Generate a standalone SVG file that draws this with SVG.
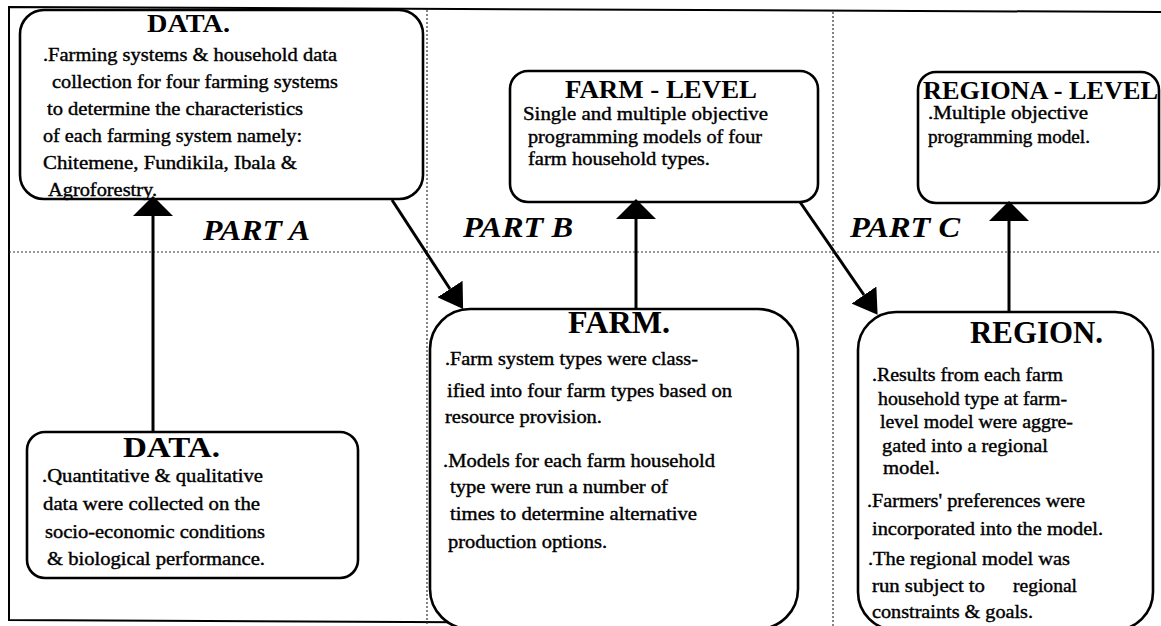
<svg xmlns="http://www.w3.org/2000/svg" width="1161" height="626" viewBox="0 0 1161 626">
<style>
  .box { fill: #fff; stroke: #000; stroke-width: 2.6; }
  .frame { fill: none; stroke: #000; stroke-width: 2; }
  .dot { fill: none; stroke: #333; stroke-width: 1.2; stroke-dasharray: 2 2; }
  .conn { fill: none; stroke: #000; stroke-width: 3; }
  .t { font-family: "Liberation Serif", "Times New Roman", serif; font-size: 19px; fill: #000; stroke: #000; stroke-width: 0.4; }
  .h { font-family: "Liberation Serif", "Times New Roman", serif; font-weight: bold; fill: #000; }
  .part { font-family: "Liberation Serif", "Times New Roman", serif; font-weight: bold; font-style: italic; font-size: 30px; fill: #000; }
</style>
<defs>
  <marker id="wide" viewBox="0 0 20 40" markerWidth="20" markerHeight="40" refX="0" refY="20" orient="auto" markerUnits="userSpaceOnUse">
    <path d="M0,0 L20,20 L0,40 Z" fill="#000"/>
  </marker>
  <marker id="sharp" viewBox="0 0 24 30" markerWidth="24" markerHeight="30" refX="0" refY="15" orient="auto" markerUnits="userSpaceOnUse">
    <path d="M0,0 L24,15 L0,30 Z" fill="#000"/>
  </marker>
</defs>

<g id="frame">
  <polyline class="frame" points="1161,12 9,7 9,620 640,623"/>
  <line class="dot" x1="9" y1="252" x2="1161" y2="252"/>
  <line class="dot" x1="427" y1="10" x2="427" y2="624"/>
  <line class="dot" x1="833" y1="12" x2="833" y2="626"/>
</g>

<g id="part-labels">
  <text class="part" x="203" y="240" textLength="107" lengthAdjust="spacingAndGlyphs">PART A</text>
  <text class="part" x="463" y="237" textLength="110" lengthAdjust="spacingAndGlyphs">PART B</text>
  <text class="part" x="850" y="237" textLength="110" lengthAdjust="spacingAndGlyphs">PART C</text>
</g>

<g id="node-data-top">
  <rect class="box" x="20" y="10" width="403" height="189" rx="24"/>
  <text class="h" x="147" y="32" font-size="25" textLength="83" lengthAdjust="spacingAndGlyphs">DATA.</text>
  <text class="t" x="43" y="61" textLength="294" lengthAdjust="spacingAndGlyphs">.Farming systems &amp; household data</text>
  <text class="t" x="52" y="88" textLength="286" lengthAdjust="spacingAndGlyphs">collection for four farming systems</text>
  <text class="t" x="47" y="115" textLength="256" lengthAdjust="spacingAndGlyphs">to determine the characteristics</text>
  <text class="t" x="43" y="142" textLength="259" lengthAdjust="spacingAndGlyphs">of each farming system namely:</text>
  <text class="t" x="43" y="169" textLength="254" lengthAdjust="spacingAndGlyphs">Chitemene, Fundikila, Ibala &amp;</text>
  <text class="t" x="48" y="196" textLength="109" lengthAdjust="spacingAndGlyphs">Agroforestry.</text>
</g>

<g id="node-farm-level">
  <rect class="box" x="510" y="71" width="308" height="131" rx="18"/>
  <text class="h" x="565" y="98" font-size="25" textLength="192" lengthAdjust="spacingAndGlyphs">FARM - LEVEL</text>
  <text class="t" x="523" y="120" textLength="245" lengthAdjust="spacingAndGlyphs">Single and multiple objective</text>
  <text class="t" x="528" y="143" textLength="234" lengthAdjust="spacingAndGlyphs">programming models of four</text>
  <text class="t" x="528" y="165" textLength="182" lengthAdjust="spacingAndGlyphs">farm household types.</text>
</g>

<g id="node-regional-level">
  <rect class="box" x="918" y="72" width="241" height="131" rx="18"/>
  <text class="h" x="923" y="99" font-size="25" textLength="235" lengthAdjust="spacingAndGlyphs">REGIONA - LEVEL</text>
  <text class="t" x="928" y="119" textLength="160" lengthAdjust="spacingAndGlyphs">.Multiple objective</text>
  <text class="t" x="928" y="143" textLength="162" lengthAdjust="spacingAndGlyphs">programming model.</text>
</g>

<g id="node-data-bottom">
  <rect class="box" x="27" y="432" width="331" height="146" rx="18"/>
  <text class="h" x="123" y="457" font-size="30" textLength="97" lengthAdjust="spacingAndGlyphs">DATA.</text>
  <text class="t" x="42" y="482" textLength="221" lengthAdjust="spacingAndGlyphs">.Quantitative &amp; qualitative</text>
  <text class="t" x="43" y="510" textLength="217" lengthAdjust="spacingAndGlyphs">data were collected on the</text>
  <text class="t" x="45" y="538" textLength="220" lengthAdjust="spacingAndGlyphs">socio-economic conditions</text>
  <text class="t" x="47" y="565" textLength="218" lengthAdjust="spacingAndGlyphs">&amp; biological performance.</text>
</g>

<g id="node-farm">
  <rect class="box" x="430" y="309" width="368" height="320" rx="40"/>
  <text class="h" x="568" y="333" font-size="31" textLength="102" lengthAdjust="spacingAndGlyphs">FARM.</text>
  <text class="t" x="445" y="365" textLength="253" lengthAdjust="spacingAndGlyphs">.Farm system types were class-</text>
  <text class="t" x="447" y="397" textLength="285" lengthAdjust="spacingAndGlyphs">ified into four farm types based on</text>
  <text class="t" x="445" y="423" textLength="157" lengthAdjust="spacingAndGlyphs">resource provision.</text>
  <text class="t" x="443" y="467" textLength="272" lengthAdjust="spacingAndGlyphs">.Models for each farm household</text>
  <text class="t" x="450" y="493" textLength="218" lengthAdjust="spacingAndGlyphs">type were run a number of</text>
  <text class="t" x="450" y="520" textLength="247" lengthAdjust="spacingAndGlyphs">times to determine alternative</text>
  <text class="t" x="448" y="548" textLength="159" lengthAdjust="spacingAndGlyphs">production options.</text>
</g>

<g id="node-region">
  <rect class="box" x="858" y="312" width="295" height="318" rx="38"/>
  <text class="h" x="970" y="343" font-size="31" textLength="133" lengthAdjust="spacingAndGlyphs">REGION.</text>
  <text class="t" x="872" y="381" textLength="191" lengthAdjust="spacingAndGlyphs">.Results from each farm</text>
  <text class="t" x="878" y="405" textLength="189" lengthAdjust="spacingAndGlyphs">household type at farm-</text>
  <text class="t" x="880" y="428" textLength="193" lengthAdjust="spacingAndGlyphs">level model were aggre-</text>
  <text class="t" x="882" y="452" textLength="166" lengthAdjust="spacingAndGlyphs">gated into a regional</text>
  <text class="t" x="883" y="474" textLength="57" lengthAdjust="spacingAndGlyphs">model.</text>
  <text class="t" x="867" y="507" textLength="218" lengthAdjust="spacingAndGlyphs">.Farmers' preferences were</text>
  <text class="t" x="872" y="535" textLength="231" lengthAdjust="spacingAndGlyphs">incorporated into the model.</text>
  <text class="t" x="868" y="565" textLength="202" lengthAdjust="spacingAndGlyphs">.The regional model was</text>
  <text class="t" y="592"><tspan x="872" textLength="113" lengthAdjust="spacingAndGlyphs">run subject to</tspan><tspan x="1013" textLength="64" lengthAdjust="spacingAndGlyphs">regional</tspan></text>
  <text class="t" x="872" y="618" textLength="161" lengthAdjust="spacingAndGlyphs">constraints &amp; goals.</text>
</g>

<g id="connectors">
  <line class="conn" x1="153" y1="432" x2="153" y2="216" marker-end="url(#wide)"/>
  <line class="conn" x1="392" y1="200" x2="450" y2="289" marker-end="url(#sharp)"/>
  <line class="conn" x1="636" y1="309" x2="636" y2="219" marker-end="url(#wide)"/>
  <line class="conn" x1="800" y1="202" x2="864" y2="295" marker-end="url(#sharp)"/>
  <line class="conn" x1="1009" y1="312" x2="1009" y2="221" marker-end="url(#wide)"/>
</g>
</svg>
